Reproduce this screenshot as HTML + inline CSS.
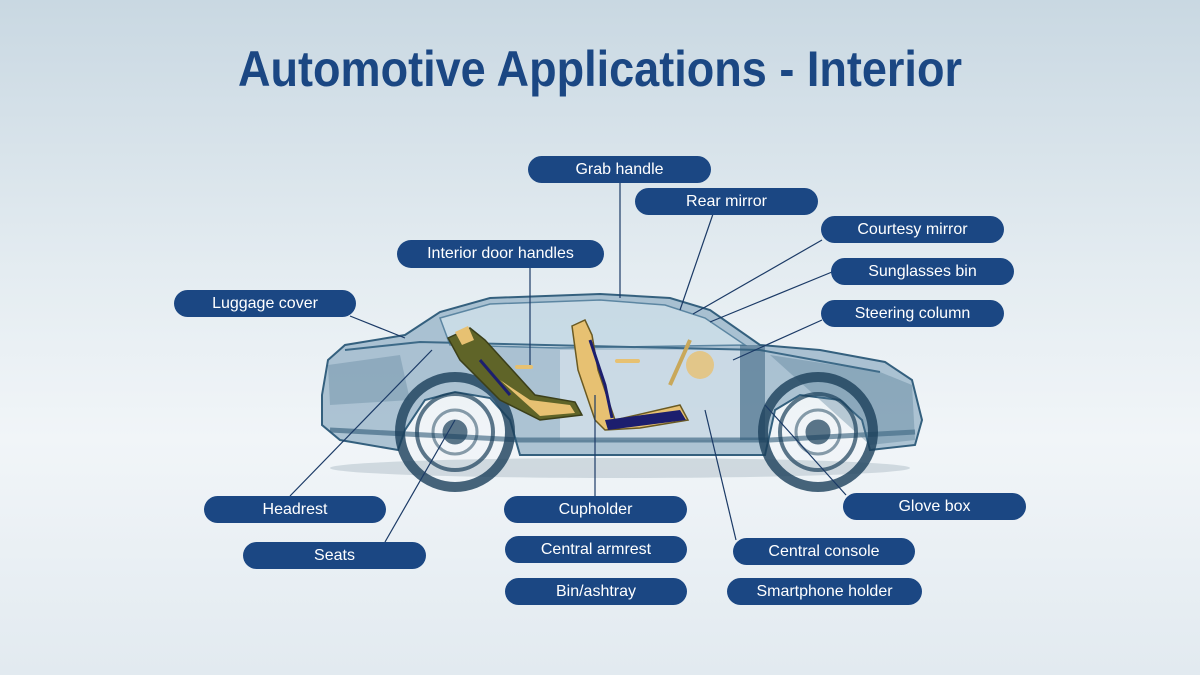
<!DOCTYPE html>
<html><head><meta charset="utf-8"><style>
html,body{margin:0;padding:0}
body{width:1200px;height:675px;overflow:hidden;background:linear-gradient(180deg,#c9d8e2 0%,#e4ecf1 40%,#f1f5f8 65%,#e2eaf0 100%);font-family:"Liberation Sans",sans-serif;position:relative}
.p{position:absolute;height:27px;border-radius:14px;background:#1b4783;color:#fff;font-size:16px;line-height:27px;text-align:center}
svg{position:absolute;left:0;top:0}
</style></head><body>
<svg width="1200" height="675" viewBox="0 0 1200 675">
<text x="600" y="86" text-anchor="middle" font-family="Liberation Sans, sans-serif" font-weight="bold" font-size="50" fill="#1b4783" textLength="724" lengthAdjust="spacingAndGlyphs">Automotive Applications - Interior</text>
<ellipse cx="620" cy="468" rx="290" ry="10" fill="#b9c6cf" opacity="0.6"/>
<path d="M322,395 L328,360 L345,345 L405,335 L440,312 L490,298 L600,294 L670,298 L710,310 L760,345 L820,350 L885,362 L912,380 L922,420 L915,445 L870,450 L862,420 L840,400 L800,395 L775,410 L765,455 L520,455 L510,420 L490,398 L455,392 L425,400 L405,430 L398,450 L340,440 L322,425 Z" fill="#7fa2ba" fill-opacity="0.6" stroke="#34607e" stroke-width="2"/>
<path d="M440,318 L490,304 L600,300 L665,305 L705,318 L745,345 L560,348 L450,345 Z" fill="#d6e5ee" fill-opacity="0.7" stroke="#5c86a2" stroke-width="1.5"/>
<path d="M560,350 L740,350 L740,440 L560,440 Z" fill="#dfeaf1" opacity="0.6"/>
<path d="M345,350 L420,342 L760,350 L880,372" fill="none" stroke="#3d6a88" stroke-width="2"/>
<path d="M330,430 L520,440 L770,440 L915,432" fill="none" stroke="#2f5a78" stroke-width="5" opacity="0.6"/>
<path d="M740,345 L765,345 L765,440 L740,440 Z" fill="#2f5a78" opacity="0.5"/>
<path d="M770,355 L880,372 L912,385 L915,440 L870,445 Z" fill="#4f7892" opacity="0.35"/>
<path d="M328,365 L400,355 L410,400 L330,405 Z" fill="#4f7892" opacity="0.3"/>
<g fill="none" stroke="#1a3f5a">
<circle cx="455" cy="432" r="55" stroke-width="10" opacity="0.8"/>
<circle cx="455" cy="432" r="38" stroke-width="4" opacity="0.7"/>
<circle cx="455" cy="432" r="22" stroke-width="3" opacity="0.5"/>
<circle cx="455" cy="432" r="12" fill="#1a3f5a" opacity="0.7"/>
<circle cx="818" cy="432" r="55" stroke-width="10" opacity="0.8"/>
<circle cx="818" cy="432" r="38" stroke-width="4" opacity="0.7"/>
<circle cx="818" cy="432" r="22" stroke-width="3" opacity="0.5"/>
<circle cx="818" cy="432" r="12" fill="#1a3f5a" opacity="0.7"/>
</g>
<path d="M448,338 L470,328 L485,340 L535,395 L575,402 L582,415 L540,420 L500,400 L460,360 Z" fill="#5f6428" stroke="#3b3f1a" stroke-width="1.5"/>
<path d="M455,332 L468,326 L474,340 L462,345 Z" fill="#e7c172"/>
<path d="M500,380 L530,400 L570,405 L575,413 L540,416 Z" fill="#e7c172"/>
<path d="M480,360 L510,395" stroke="#1c1e6e" stroke-width="3"/>
<path d="M572,326 L585,320 L592,335 L598,370 L615,420 L680,405 L688,420 L640,428 L605,430 L595,420 L578,370 Z" fill="#e7c172" stroke="#6a5a22" stroke-width="1.5"/>
<path d="M590,340 L605,385 L612,418" stroke="#1c1e6e" stroke-width="3" fill="none"/>
<path d="M605,420 L680,410 L686,420 L608,430 Z" fill="#1c1e6e"/>
<rect x="515" y="365" width="18" height="4" rx="2" fill="#e7c172"/>
<rect x="615" y="359" width="25" height="4" rx="2" fill="#e7c172"/>
<path d="M670,385 L690,340" stroke="#c9a85a" stroke-width="4"/>
<circle cx="700" cy="365" r="14" fill="#e7c172" opacity="0.8"/>
<g stroke="#1b3a66" stroke-width="1.2" fill="none">
<line x1="350" y1="316" x2="405" y2="338"/>
<line x1="530" y1="268" x2="530" y2="365"/>
<line x1="620" y1="182" x2="620" y2="298"/>
<line x1="713" y1="214" x2="680" y2="310"/>
<line x1="822" y1="240" x2="693" y2="314"/>
<line x1="832" y1="272" x2="710" y2="322"/>
<line x1="822" y1="320" x2="733" y2="360"/>
<line x1="290" y1="496" x2="432" y2="350"/>
<line x1="385" y1="542" x2="455" y2="420"/>
<line x1="595" y1="496" x2="595" y2="395"/>
<line x1="736" y1="540" x2="705" y2="410"/>
<line x1="846" y1="495" x2="765" y2="405"/>
</g>
</svg>
<div class="p" style="left:528px;top:156px;width:183px">Grab handle</div>
<div class="p" style="left:635px;top:188px;width:183px">Rear mirror</div>
<div class="p" style="left:821px;top:216px;width:183px">Courtesy mirror</div>
<div class="p" style="left:831px;top:258px;width:183px">Sunglasses bin</div>
<div class="p" style="left:821px;top:300px;width:183px">Steering column</div>
<div class="p" style="left:397px;top:240px;width:207px;height:28px">Interior door handles</div>
<div class="p" style="left:174px;top:290px;width:182px">Luggage cover</div>
<div class="p" style="left:204px;top:496px;width:182px">Headrest</div>
<div class="p" style="left:243px;top:542px;width:183px">Seats</div>
<div class="p" style="left:504px;top:496px;width:183px">Cupholder</div>
<div class="p" style="left:505px;top:536px;width:182px">Central armrest</div>
<div class="p" style="left:505px;top:578px;width:182px">Bin/ashtray</div>
<div class="p" style="left:843px;top:493px;width:183px">Glove box</div>
<div class="p" style="left:733px;top:538px;width:182px">Central console</div>
<div class="p" style="left:727px;top:578px;width:195px">Smartphone holder</div>
</body></html>
